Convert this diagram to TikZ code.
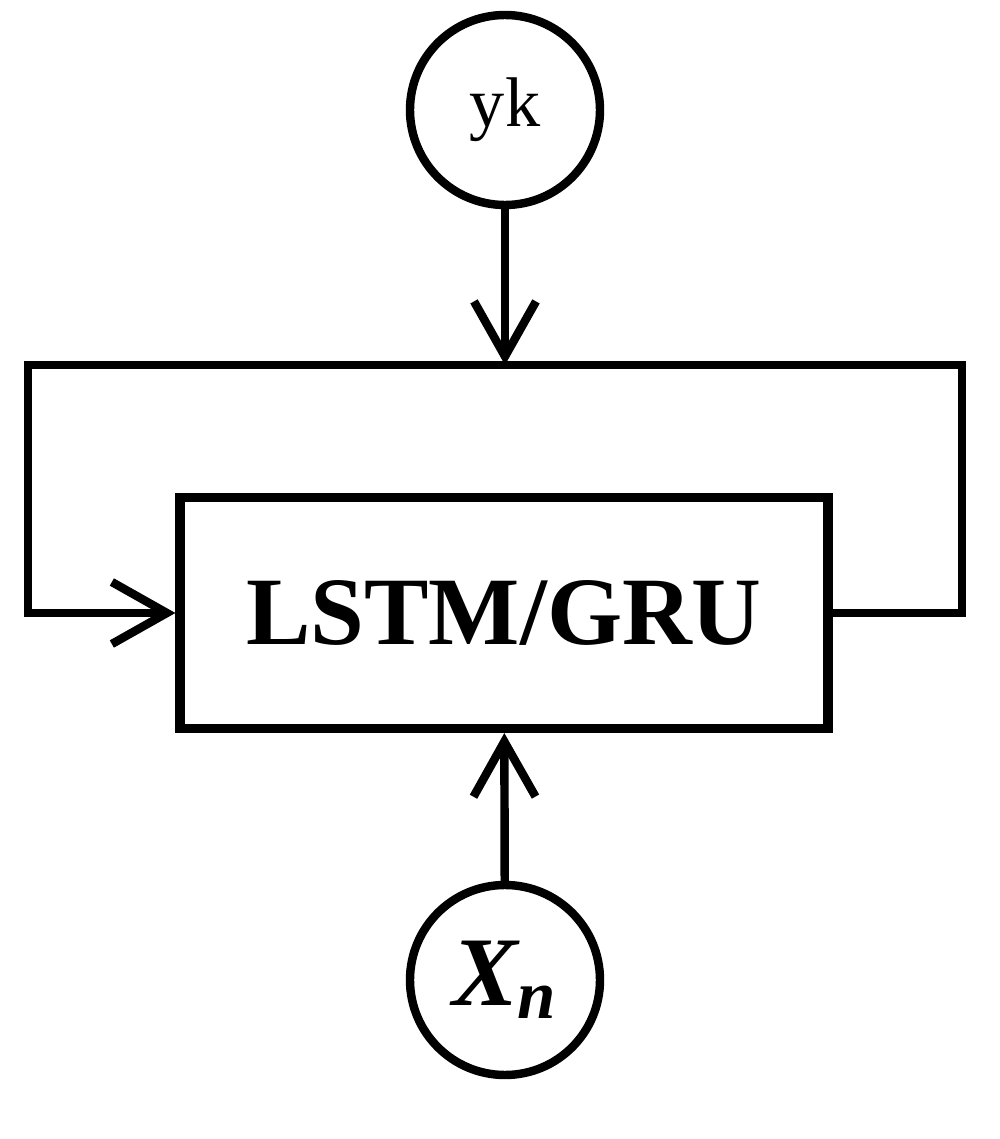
\documentclass[tikz,border=0pt]{standalone}
\usepackage{fontspec}
\setmainfont{Liberation Serif}
\usetikzlibrary{positioning,arrows.meta}
\tikzset{io node/.style={draw,line width=2.4pt,circle,minimum size=1.9cm,inner sep=0pt},
cell node/.style={draw,line width=2.6pt,minimum width=6.48cm,minimum height=2.31cm,font=\fontsize{27.5}{32}\selectfont\bfseries},
flow/.style={line width=2.4pt,-{Straight Barb[length=0.55cm,width=0.62cm,line width=2.4pt]}}}
\begin{document}
\begin{tikzpicture}
\useasboundingbox (0,0) rectangle (10,11.39);
\node[cell node] (C) at (5.04,5.26) {LSTM/GRU};
\node[io node,font=\fontsize{20}{24}\selectfont] (Y) at (5.05,10.29) {yk};
\node[io node,font=\fontsize{28}{32}\selectfont\bfseries\itshape] (X) at (5.05,1.59) {X\textsubscript{n}};
\coordinate (T) at (5.05,7.74);
\draw[flow] (C.east) -| (9.62,7.74) -- (0.28,7.74) |- (C.west);
\draw[flow] (Y) -- (T);
\draw[flow] (X) -- (C);
\end{tikzpicture}
\end{document}
